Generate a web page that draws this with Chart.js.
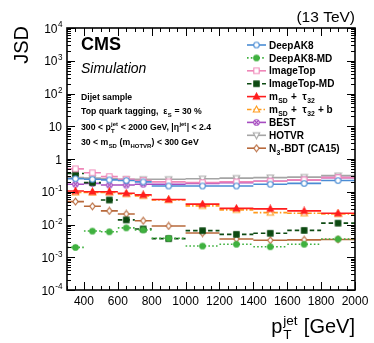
<!DOCTYPE html>
<html><head><meta charset="utf-8">
<script src="https://cdn.jsdelivr.net/npm/chart.js@4.4.0/dist/chart.umd.min.js"></script>
<style>html,body{margin:0;padding:0;background:#fff;overflow:hidden}</style>
</head><body>
<canvas id="c" width="374" height="343" style="display:block;width:374px;height:343px"></canvas>
<script>
// ---- data ----
const binEdges = [300, 400, 500, 600, 700, 800, 1000, 1200, 1400, 1600, 1800, 2000];
const deepAK8     = [0.25, 0.24, 0.23, 0.22, 0.20, 0.15, 0.15, 0.15, 0.17, 0.18, 0.22];
const deepAK8MD   = [0.0020, 0.0063, 0.0060, 0.0079, 0.0068, 0.0038, 0.0022, 0.0025, 0.0021, 0.0025, 0.0036];
const imageTop    = [0.50, 0.38, 0.29, 0.24, 0.22, 0.20, 0.19, 0.20, 0.21, 0.23, 0.27];
const imageTopMD  = [0.36, 0.19, 0.056, 0.0138, 0.0073, 0.0037, 0.0065, 0.0050, 0.0054, 0.0066, 0.011];
const msdTau32    = [0.105, 0.10, 0.10, 0.09, 0.08, 0.058, 0.042, 0.031, 0.030, 0.026, 0.022];
const msdTau32b   = [0.095, 0.095, 0.095, 0.085, 0.075, 0.056, 0.037, 0.028, 0.023, 0.022, 0.021];
const best        = [0.17, 0.18, 0.16, 0.16, 0.17, 0.17, 0.18, 0.19, 0.21, 0.23, 0.27];
const hotvr       = [0.27, 0.26, 0.25, 0.24, 0.24, 0.24, 0.25, 0.26, 0.27, 0.28, 0.31];
const n3bdt       = [0.050, 0.036, 0.026, 0.021, 0.013, 0.009, 0.0055, 0.0036, 0.0033, 0.0034, 0.0035];
const xTickLabels = [400, 600, 800, 1000, 1200, 1400, 1600, 1800, 2000];
const yTickValues = [1e-4, 1e-3, 1e-2, 1e-1, 1, 10, 100, 1000, 10000];

// ---- styles ----
const FONT = '"Liberation Sans", Arial, Helvetica, sans-serif';
const series = [
  {label:[{t:'DeepAK8'}], data:deepAK8, color:'#4a8cd4', dash:[], marker:'circle', fill:false},
  {label:[{t:'DeepAK8-MD'}], data:deepAK8MD, color:'#3fb13f', dash:[1.6,2.2], marker:'circle', fill:true},
  {label:[{t:'ImageTop'}], data:imageTop, color:'#ef86b8', dash:[], marker:'square', fill:false},
  {label:[{t:'ImageTop-MD'}], data:imageTopMD, color:'#0d4a12', dash:[4.5,3], marker:'square', fill:true},
  {label:[{t:'m', sub:'SD'}, {t:' +  \u03C4', sub:'32'}], data:msdTau32, color:'#ff1d1d', dash:[], marker:'triangle', fill:true},
  {label:[{t:'m', sub:'SD'}, {t:' +  \u03C4', sub:'32'}, {t:' + b'}], data:msdTau32b, color:'#ff9c1e', dash:[4.5,2,1.5,2], marker:'triangle', fill:false},
  {label:[{t:'BEST'}], data:best, color:'#a64cc0', dash:[], marker:'circlecross', fill:false},
  {label:[{t:'HOTVR'}], data:hotvr, color:'#a5a5a5', dash:[], marker:'invtri', fill:false},
  {label:[{t:'N', sub:'3'}, {t:'-BDT (CA15)'}], data:n3bdt, color:'#b8693b', dash:[], marker:'diamond', fill:false},
];

function makeMarker(kind, color, fill) {
  const S = 9, c = document.createElement('canvas');
  c.width = S; c.height = S;
  const g = c.getContext('2d');
  const m = S / 2;
  g.lineWidth = 1.1; g.strokeStyle = color; g.fillStyle = fill ? color : '#ffffff';
  g.beginPath();
  if (kind === 'circle' || kind === 'circlecross') {
    g.arc(m, m, 2.8, 0, Math.PI * 2);
  } else if (kind === 'square') {
    g.rect(m - 2.7, m - 2.7, 5.4, 5.4);
  } else if (kind === 'triangle') {
    g.moveTo(m, m - 3.4); g.lineTo(m + 3.2, m + 2.5); g.lineTo(m - 3.2, m + 2.5); g.closePath();
  } else if (kind === 'invtri') {
    g.moveTo(m, m + 3.4); g.lineTo(m + 3.2, m - 2.5); g.lineTo(m - 3.2, m - 2.5); g.closePath();
  } else if (kind === 'diamond') {
    g.moveTo(m, m - 3.4); g.lineTo(m + 2.6, m); g.lineTo(m, m + 3.4); g.lineTo(m - 2.6, m); g.closePath();
  }
  g.fill(); g.stroke();
  if (kind === 'circlecross') {
    g.beginPath();
    g.moveTo(m - 2, m - 2); g.lineTo(m + 2, m + 2);
    g.moveTo(m + 2, m - 2); g.lineTo(m - 2, m + 2);
    g.stroke();
  }
  return c;
}
series.forEach(s => { s.img = makeMarker(s.marker, s.color, s.fill); });

function binPoints(values) {
  const pts = [];
  values.forEach((v, i) => {
    const lo = binEdges[i], hi = binEdges[i + 1];
    pts.push({x: lo, y: v});
    pts.push({x: (lo + hi) / 2, y: v, m: true});
    pts.push({x: hi, y: v});
    pts.push({x: hi, y: null});
  });
  return pts;
}

// ---- rich text helper ----
function rich(ctx, x, y, parts, size, style, align) {
  const font = s => `${style} ${s}px ${FONT}`;
  const small = size * 0.68;
  let w = 0;
  const items = parts.map(p => {
    ctx.font = font(size);
    const tw = p.t ? ctx.measureText(p.t).width : 0;
    ctx.font = font(small);
    const sw = p.sub ? ctx.measureText(p.sub).width : 0;
    const pw = p.sup ? ctx.measureText(p.sup).width : 0;
    const ew = Math.max(sw, pw) + ((p.sub || p.sup) ? size * 0.08 : 0);
    w += tw + ew;
    return Object.assign({}, p, {tw, ew});
  });
  let cx = align === 'right' ? x - w : x;
  ctx.textAlign = 'left'; ctx.textBaseline = 'alphabetic';
  items.forEach(p => {
    ctx.font = font(size);
    if (p.t) ctx.fillText(p.t, cx, y);
    cx += p.tw;
    ctx.font = font(small);
    if (p.sub) ctx.fillText(p.sub, cx + size * 0.04, y + size * 0.3);
    if (p.sup) ctx.fillText(p.sup, cx + size * 0.04, y - size * 0.42);
    cx += p.ew;
  });
}

const decor = {
  id: 'decor',
  afterDraw(chart) {
    const ctx = chart.ctx, a = chart.chartArea;
    const xs = chart.scales.x, ys = chart.scales.y;
    ctx.save();
    ctx.fillStyle = '#000'; ctx.strokeStyle = '#000';
    // ticks
    ctx.lineWidth = 1;
    ctx.beginPath();
    for (let v = 300; v <= 2000; v += 50) {
      const px = Math.round(xs.getPixelForValue(v)) + 0.5;
      const L = (v % 200 === 0) ? 8 : 4;
      ctx.moveTo(px, a.bottom); ctx.lineTo(px, a.bottom - L);
      ctx.moveTo(px, a.top); ctx.lineTo(px, a.top + L);
    }
    for (let e = -4; e <= 4; e++) {
      for (let k = 1; k <= 9; k++) {
        const v = k * Math.pow(10, e);
        if (v > 1e4 * 1.0001) break;
        const py = Math.round(ys.getPixelForValue(v)) + 0.5;
        const L = k === 1 ? 8 : 4;
        ctx.moveTo(a.left, py); ctx.lineTo(a.left + L, py);
        ctx.moveTo(a.right, py); ctx.lineTo(a.right - L, py);
      }
    }
    ctx.stroke();
    // frame
    ctx.lineWidth = 1.6;
    ctx.strokeRect(a.left, a.top, a.right - a.left, a.bottom - a.top);

    // x tick labels
    ctx.font = `12px ${FONT}`; ctx.textAlign = 'center'; ctx.textBaseline = 'alphabetic';
    xTickLabels.forEach(v => ctx.fillText(String(v), xs.getPixelForValue(v), 305));
    // y tick labels
    yTickValues.forEach(v => {
      const ex = Math.round(Math.log10(v));
      const py = ys.getPixelForValue(v) + 4.5;
      if (ex === 0) rich(ctx, 62, py, [{t:'1'}], 12, 'normal', 'right');
      else if (ex === 1) rich(ctx, 62, py, [{t:'10'}], 12, 'normal', 'right');
      else rich(ctx, 63, py, [{t:'10', sup: String(ex)}], 12, 'normal', 'right');
    });

    // titles
    ctx.fillStyle = '#000';
    rich(ctx, 355, 22, [{t:'(13 TeV)'}], 15.5, 'normal', 'right');
    rich(ctx, 355, 333, [{t:'p', sub:'T', sup:'jet'}, {t:' [GeV]'}], 20, 'normal', 'right');
    ctx.save();
    ctx.translate(28, 26); ctx.rotate(-Math.PI / 2);
    ctx.font = `20px ${FONT}`; ctx.textAlign = 'right'; ctx.textBaseline = 'alphabetic';
    ctx.fillText('JSD', 0, 0);
    ctx.restore();

    rich(ctx, 81, 50, [{t:'CMS'}], 18, 'bold', 'left');
    rich(ctx, 81, 73, [{t:'Simulation'}], 14, 'italic', 'left');
    rich(ctx, 81, 100, [{t:'Dijet sample'}], 8.7, 'bold', 'left');
    rich(ctx, 81, 114, [{t:'Top quark tagging,  \u03B5', sub:'S'}, {t:' = 30 %'}], 8.7, 'bold', 'left');
    rich(ctx, 81, 130, [{t:'300 < p', sub:'T', sup:'jet'}, {t:' < 2000 GeV, |\u03B7', sup:'jet'}, {t:'| < 2.4'}], 8.7, 'bold', 'left');
    rich(ctx, 81, 145, [{t:'30 < m', sub:'SD'}, {t:' (m', sub:'HOTVR'}, {t:') < 300 GeV'}], 8.7, 'bold', 'left');

    // legend
    series.forEach((s, i) => {
      const y = 45 + i * 12.9;
      ctx.save();
      ctx.strokeStyle = s.color; ctx.lineWidth = 1.6; ctx.setLineDash(s.dash);
      ctx.beginPath(); ctx.moveTo(247, y); ctx.lineTo(266, y); ctx.stroke();
      ctx.restore();
      ctx.drawImage(s.img, 256.5 - s.img.width / 2, y - s.img.height / 2);
      ctx.fillStyle = '#000';
      rich(ctx, 269, y + 3.6, s.label, 10, 'bold', 'left');
    });
    ctx.restore();
  }
};

const datasets = series.map(s => ({
  data: binPoints(s.data),
  borderColor: s.color,
  backgroundColor: s.color,
  borderWidth: 1.6,
  borderDash: s.dash,
  spanGaps: false,
  tension: 0,
  pointStyle: s.img,
  pointRadius: c => (c.raw && c.raw.m) ? 3 : 0,
  pointHoverRadius: 0,
}));

new Chart(document.getElementById('c'), {
  type: 'line',
  data: { datasets },
  options: {
    responsive: false, animation: false, devicePixelRatio: 1, events: [],
    layout: { padding: { left: 0, right: 19, top: 28, bottom: 0 } },
    plugins: { legend: { display: false }, tooltip: { enabled: false } },
    scales: {
      x: { type: 'linear', min: 300, max: 2000,
           ticks: { display: false }, grid: { display: false }, border: { display: false },
           afterFit: s => { s.height = 53; } },
      y: { type: 'logarithmic', min: 1e-4, max: 1e4,
           ticks: { display: false }, grid: { display: false }, border: { display: false },
           afterFit: s => { s.width = 67; } }
    }
  },
  plugins: [decor]
});
</script>
</body></html>
